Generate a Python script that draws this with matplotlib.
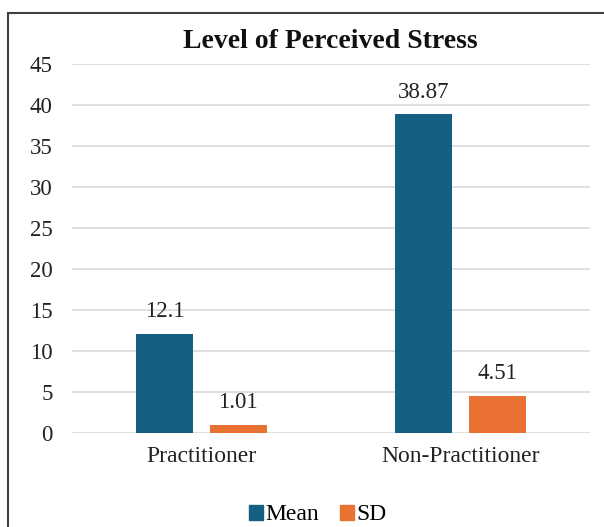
import matplotlib
matplotlib.use("Agg")
import matplotlib.pyplot as plt
from matplotlib.patches import Rectangle, Patch
import numpy as np

categories = ["Practitioner", "Non-Practitioner"]
mean_vals = [12.1, 38.87]
sd_vals = [1.01, 4.51]
mean_labels = ["12.1", "38.87"]
sd_labels = ["1.01", "4.51"]
yticks = [0, 5, 10, 15, 20, 25, 30, 35, 40, 45]

W, H = 604, 527
fig = plt.figure(figsize=(W / 100, H / 100), dpi=100)
plt.rcParams['font.family'] = ['Liberation Serif', 'DejaVu Serif']

ax = fig.add_axes([72 / W, (H - 433) / H, (590 - 72) / W, (433 - 64) / H])

x = np.arange(len(categories))
bw = 0.22
off = 0.141
c_mean = "#156082"
c_sd = "#E97132"
txt = "#222222"
b1 = ax.bar(x - off, mean_vals, bw, color=c_mean, zorder=3)
b2 = ax.bar(x + off, sd_vals, bw, color=c_sd, zorder=3)

for bars, labs in ((b1, mean_labels), (b2, sd_labels)):
    for r, lab in zip(bars, labs):
        ax.annotate(lab, (r.get_x() + r.get_width() / 2, r.get_height()),
                    xytext=(0, 16), textcoords="offset points",
                    ha="center", va="center", fontsize=16.5, color=txt)

ax.set_xlim(-0.5, 1.5)
ax.set_ylim(0, 45)
ax.set_yticks(yticks)
ax.set_yticklabels([str(t) for t in yticks], fontsize=16.5, color=txt)
ax.set_xticks(x)
ax.set_xticklabels(categories, fontsize=17, color=txt)
ax.tick_params(axis="both", length=0)
ax.tick_params(axis="y", pad=14)
ax.tick_params(axis="x", pad=9)
for s in ax.spines.values():
    s.set_visible(False)
ax.grid(axis="y", color="#d9d9d9", linewidth=1.2, zorder=0)
ax.set_axisbelow(True)

fig.text(330 / W, 1 - 48 / H, "Level of Perceived Stress", ha="center", va="baseline",
         fontsize=20, fontweight="bold", color="#111111")

handles = [Patch(color=c_mean, label="Mean"), Patch(color=c_sd, label="SD")]
fig.legend(handles=handles, loc="center", bbox_to_anchor=(318 / W, 1 - 515 / H),
           ncol=2, frameon=False, fontsize=17, handlelength=0.6, handleheight=0.6,
           handletextpad=0.1, columnspacing=0.9, borderpad=0)

fig.patches.append(Rectangle((8 / W, -0.05), 1.1, 1 - 13 / H + 0.05, transform=fig.transFigure,
                             fill=False, edgecolor="#404040", linewidth=1.5))

fig.savefig("out.png", dpi=100)
